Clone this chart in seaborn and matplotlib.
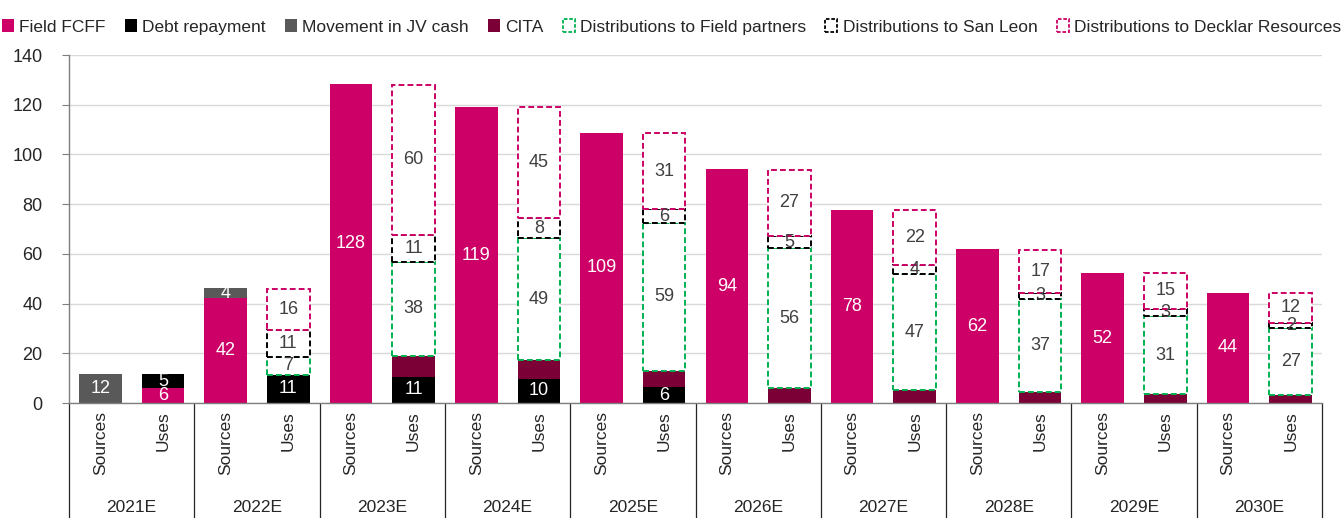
import numpy as np
import pandas as pd
import matplotlib
matplotlib.use("Agg")
import matplotlib.pyplot as plt
import matplotlib.transforms as mtransforms
from matplotlib.patches import Patch
from matplotlib import font_manager
import seaborn as sns

# ============================================================================
# DADOS (US$ m)
# ============================================================================
years = ['2021E', '2022E', '2023E', '2024E', '2025E',
         '2026E', '2027E', '2028E', '2029E', '2030E']
kinds = ['Sources', 'Uses']

# Sources
src_fcff = [0, 42.4, 128.2, 118.9, 108.7, 94.0, 77.6, 61.8, 52.2, 44.4]
src_jv_cash = [11.6, 3.7, 0, 0, 0, 0, 0, 0, 0, 0]

# Uses
use_fcff = [6.2, 0, 0, 0, 0, 0, 0, 0, 0, 0]
use_debt = [5.3, 11.3, 10.6, 9.7, 6.3, 0, 0, 0, 0, 0]
use_cita = [0, -0.5, 8.3, 7.6, 6.7, 5.9, 5.2, 4.3, 3.6, 3.2]
use_partners = [0, 7.3, 37.9, 48.9, 59.3, 56.3, 46.6, 37.4, 31.4, 26.8]
use_san_leon = [0, 10.8, 10.8, 8.1, 5.6, 4.9, 3.7, 2.7, 2.7, 2.1]
use_decklar = [0, 16.4, 60.4, 44.8, 30.8, 26.8, 22.1, 17.3, 14.8, 12.3]

# cores
PINK = '#CC0066'
BLACK = '#000000'
GREY = '#595959'
MAROON = '#7A0035'
GREEN = '#00B050'
LABEL_DARK = '#404040'

# (nome, valores sources, valores uses, cor, tracejado?, rótulo?)
series = [
    ('Field FCFF', src_fcff, use_fcff, PINK, False, True),
    ('Debt repayment', [0] * 10, use_debt, BLACK, False, True),
    ('Movement in JV cash', src_jv_cash, [0] * 10, GREY, False, True),
    ('CITA', [0] * 10, use_cita, MAROON, False, False),
    ('Distributions to Field partners', [0] * 10, use_partners, GREEN, True, True),
    ('Distributions to San Leon', [0] * 10, use_san_leon, BLACK, True, True),
    ('Distributions to Decklar Resources', [0] * 10, use_decklar, PINK, True, True),
]

# ============================================================================
# ESTILO
# ============================================================================
sns.set_style("whitegrid")
plt.rcParams['font.family'] = ['Liberation Sans', 'DejaVu Sans']
plt.rcParams['font.size'] = 12

# fonte estreita para números (se existir)
nomes = {f.name for f in font_manager.fontManager.ttflist}
NUM_FONT = ['Liberation Sans Narrow'] if 'Liberation Sans Narrow' in nomes else ['Liberation Sans']
NUM_SIZE = 14 if 'Liberation Sans Narrow' in nomes else 13

fig = plt.figure(figsize=(13.43, 5.18), dpi=100)
ax = fig.add_axes([69 / 1343, 115 / 518, (1322 - 69) / 1343, 348 / 518])

n_bars = len(years) * 2
x = np.arange(n_bars)
width = 0.68
pos_base = np.zeros(n_bars)
neg_base = np.zeros(n_bars)

for name, src, use, col, dashed, show_label in series:
    vals = np.empty(n_bars)
    vals[0::2] = src
    vals[1::2] = use
    for i, v in enumerate(vals):
        if v == 0:
            continue
        if v > 0:
            bottom = pos_base[i]
            pos_base[i] += v
        else:
            bottom = neg_base[i]
            neg_base[i] += v
        if dashed:
            ax.bar(x[i], v, width=width, bottom=bottom, color='white',
                   edgecolor=col, linewidth=1.4, linestyle=(0, (3, 1.6)), zorder=3)
        else:
            ax.bar(x[i], v, width=width, bottom=bottom, color=col,
                   edgecolor='none', linewidth=0, zorder=2)
        if show_label and v > 0:
            ax.text(x[i], bottom + v / 2, f'{v:.0f}', ha='center', va='center',
                    fontsize=NUM_SIZE, family=NUM_FONT,
                    color=LABEL_DARK if dashed else 'white', zorder=5)

# eixos
ax.set_xlim(-0.5, n_bars - 0.5)
ax.set_ylim(0, 140)
ax.set_yticks(np.arange(0, 141, 20))
ax.set_xticks(x)
ax.set_xticklabels(kinds * len(years), rotation=90, va='top', ha='center')
ax.tick_params(axis='x', length=0, pad=6, labelsize=12.5)
ax.tick_params(axis='y', length=5, color='#7F7F7F', direction='out', pad=14,
               labelsize=NUM_SIZE, left=True)
for lab in ax.get_yticklabels():
    lab.set_family(NUM_FONT)
ax.grid(axis='x', visible=False)
ax.grid(axis='y', color='#D9D9D9', linewidth=1)
ax.set_axisbelow(True)
for s in ['top', 'right']:
    ax.spines[s].set_visible(False)
for s in ['left', 'bottom']:
    ax.spines[s].set_color('#7F7F7F')
    ax.spines[s].set_linewidth(1)

# separadores de grupo e anos
trans = mtransforms.blended_transform_factory(ax.transData, ax.transAxes)
for k in range(len(years) + 1):
    ax.plot([2 * k - 0.5, 2 * k - 0.5], [0, -0.34], transform=trans,
            color='#262626', linewidth=0.9, clip_on=False)
for k, yr in enumerate(years):
    ax.text(2 * k + 0.5, -0.30, yr, transform=trans, ha='center', va='center',
            fontsize=12.5)

# legenda
handles = []
for name, src, use, col, dashed, show_label in series:
    if dashed:
        handles.append(Patch(facecolor='white', edgecolor=col, linewidth=1.3,
                             linestyle=(0, (2, 1)), label=name))
    else:
        handles.append(Patch(facecolor=col, edgecolor='none', label=name))
fig.legend(handles=handles, loc='center', bbox_to_anchor=(0.5, 1 - 27 / 518),
           ncol=7, frameon=False, fontsize=12.5, handlelength=0.7,
           handleheight=0.7, handletextpad=0.3, columnspacing=1.1, borderpad=0)

fig.savefig('out.png', dpi=100)
